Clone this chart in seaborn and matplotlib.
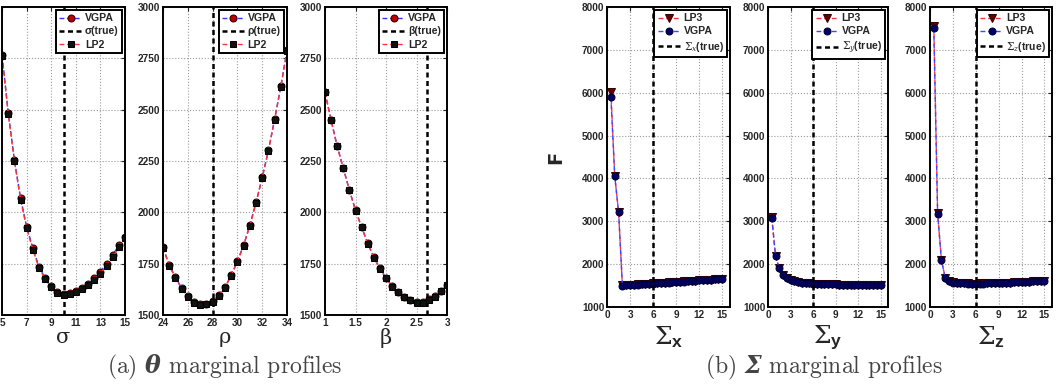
import matplotlib
matplotlib.use("Agg")
import matplotlib.pyplot as plt
import seaborn as sns

# --- Data --------------------------------------------------------------------
sigma_grid = [5, 5.5, 6, 6.5, 7, 7.5, 8, 8.5, 9, 9.5, 10,
              10.5, 11, 11.5, 12, 12.5, 13, 13.5, 14, 14.5, 15]
sigma_vgpa = [2766, 2484, 2255, 2070, 1929, 1826, 1734, 1680, 1641, 1610, 1602,
              1605, 1615, 1630, 1652, 1680, 1712, 1750, 1792, 1840, 1880]
sigma_lp2 = [2760, 2478, 2250, 2062, 1922, 1818, 1730, 1674, 1636, 1607, 1600,
             1604, 1612, 1627, 1646, 1672, 1702, 1740, 1782, 1830, 1873]

rho_grid = [24, 24.5, 25, 25.5, 26, 26.5, 27, 27.5, 28, 28.5, 29,
            29.5, 30, 30.5, 31, 31.5, 32, 32.5, 33, 33.5, 34]
rho_vgpa = [1831, 1743, 1685, 1631, 1592, 1563, 1553, 1556, 1568, 1597, 1636,
            1695, 1763, 1841, 1938, 2050, 2172, 2303, 2455, 2615, 2790]
rho_lp2 = [1828, 1740, 1682, 1628, 1589, 1561, 1551, 1554, 1565, 1594, 1633,
           1692, 1760, 1838, 1934, 2046, 2168, 2300, 2452, 2612, 2788]

beta_grid = [1.0, 1.1, 1.2, 1.3, 1.4, 1.5, 1.6, 1.7, 1.8, 1.9, 2.0,
             2.1, 2.2, 2.3, 2.4, 2.5, 2.6, 2.7, 2.8, 2.9, 3.0]
beta_vgpa = [2586, 2450, 2323, 2216, 2109, 2011, 1929, 1850, 1782, 1727, 1680,
             1641, 1612, 1588, 1573, 1563, 1563, 1578, 1592, 1617, 1646]
beta_lp2 = [2584, 2448, 2321, 2214, 2107, 2009, 1927, 1848, 1780, 1725, 1678,
            1639, 1610, 1586, 1571, 1561, 1561, 1575, 1590, 1615, 1644]

theta_true = [10, 28, 8 / 3]
theta_names = ["σ", "ρ", "β"]
theta_xlim = [(5, 15), (24, 34), (1, 3)]
theta_xticks = [[5, 7, 9, 11, 13, 15], [24, 26, 28, 30, 32, 34],
                [1, 1.5, 2, 2.5, 3]]
theta_xticklabels = [["5", "7", "9", "11", "13", "15"],
                     ["24", "26", "28", "30", "32", "34"],
                     ["1", "1.5", "2", "2.5", "3"]]

sig_grid = [0.5, 1, 1.5, 2, 2.5, 3, 3.5, 4, 4.5, 5, 5.5, 6, 6.5, 7, 7.5,
            8, 8.5, 9, 9.5, 10, 10.5, 11, 11.5, 12, 12.5, 13, 13.5, 14, 14.5, 15]
sx_lp3 = [6020, 4060, 3220, 1500, 1505, 1511, 1517, 1523, 1529, 1535, 1541,
          1547, 1553, 1559, 1565, 1571, 1577, 1583, 1589, 1595, 1601, 1607,
          1613, 1619, 1625, 1631, 1637, 1643, 1649, 1655]
sx_vgpa = [5905, 4055, 3215, 1498, 1503, 1509, 1515, 1521, 1527, 1533, 1539,
           1545, 1551, 1557, 1563, 1569, 1575, 1581, 1587, 1593, 1599, 1605,
           1611, 1617, 1623, 1629, 1635, 1641, 1647, 1653]
sy_lp3 = [3100, 2185, 1905, 1752, 1682, 1634, 1602, 1582, 1567, 1557, 1549,
          1543, 1538, 1534, 1531, 1528, 1526, 1524, 1522, 1520, 1518, 1516,
          1515, 1513, 1512, 1511, 1510, 1509, 1508, 1507]
sy_vgpa = [3080, 2180, 1900, 1750, 1680, 1632, 1600, 1580, 1566, 1556, 1548,
           1542, 1537, 1533, 1530, 1527, 1525, 1523, 1521, 1519, 1517, 1515,
           1514, 1512, 1511, 1510, 1509, 1508, 1507, 1506]
sz_lp3 = [7560, 3190, 2090, 1680, 1600, 1570, 1558, 1552, 1549, 1547, 1546,
          1546, 1547, 1548, 1550, 1552, 1555, 1558, 1561, 1565, 1569, 1573,
          1577, 1582, 1587, 1592, 1597, 1603, 1609, 1615]
sz_vgpa = [7500, 3180, 2085, 1676, 1597, 1568, 1556, 1550, 1547, 1545, 1544,
           1544, 1545, 1546, 1548, 1550, 1553, 1556, 1559, 1563, 1567, 1571,
           1575, 1580, 1585, 1590, 1595, 1601, 1607, 1613]
sigma_true = 6
sigma_subs = ["x", "y", "z"]

# --- Style -------------------------------------------------------------------
sns.set_style("white")
plt.rcParams["font.family"] = ["Liberation Sans", "DejaVu Sans"]
plt.rcParams["mathtext.fontset"] = "custom"
plt.rcParams["mathtext.rm"] = "DejaVu Serif"
plt.rcParams["mathtext.it"] = "DejaVu Serif:italic"
plt.rcParams["mathtext.bf"] = "DejaVu Serif:bold:italic"
plt.rcParams["mathtext.sf"] = "Liberation Sans:bold"

SER_DASH = (0, (3.5, 2))
TRUE_DASH = (0, (2, 1.4))

fig = plt.figure(figsize=(10.62, 3.88), dpi=100)


def style_axis(ax):
    for sp in ax.spines.values():
        sp.set_linewidth(1.4)
        sp.set_color("black")
    ax.grid(True, linestyle=":", color="#9a9a9a", linewidth=0.8)
    ax.tick_params(direction="in", length=3, width=0.8, top=True, right=True,
                   labelsize=7.2, pad=2)
    for lbl in ax.get_xticklabels() + ax.get_yticklabels():
        lbl.set_fontweight("bold")


def boxed_legend(ax):
    leg = ax.legend(loc="upper right", frameon=True, fancybox=False,
                    borderpad=0.3, labelspacing=0.3, handlelength=2.2,
                    handletextpad=0.25, borderaxespad=0.3,
                    prop={"weight": "bold", "size": 7.6})
    leg.get_frame().set_edgecolor("black")
    leg.get_frame().set_linewidth(1.4)
    leg.get_frame().set_alpha(1)


# --- Panel (a): theta profiles ---------------------------------------------
theta_pos = [(0.002, 0.1157), (0.1535, 0.1168), (0.306, 0.115)]
theta_data = [(sigma_grid, sigma_vgpa, sigma_lp2),
              (rho_grid, rho_vgpa, rho_lp2),
              (beta_grid, beta_vgpa, beta_lp2)]
for i, (left, width) in enumerate(theta_pos):
    ax = fig.add_axes([left, 0.188, width, 0.794])
    xg, yv, yl = theta_data[i]
    sns.lineplot(x=xg, y=yv, ax=ax, color="#3333ff", linestyle=SER_DASH,
                 linewidth=1.0, marker="o", markersize=5,
                 markerfacecolor="#bb0000", markeredgecolor="#330000",
                 label="VGPA")
    ax.axvline(theta_true[i], color="black", linestyle=TRUE_DASH,
               linewidth=1.8, label=theta_names[i] + "(true)")
    sns.lineplot(x=xg, y=yl, ax=ax, color="#ff3333", linestyle=SER_DASH,
                 linewidth=1.0, marker="s", markersize=4.5,
                 markerfacecolor="#111111", markeredgecolor="#000000",
                 label="LP2")
    ax.set_xlim(*theta_xlim[i])
    ax.set_ylim(1500, 3000)
    ax.set_xticks(theta_xticks[i])
    ax.set_xticklabels(theta_xticklabels[i])
    ax.set_yticks([1500, 1750, 2000, 2250, 2500, 2750, 3000])
    ax.set_xlabel(theta_names[i], family="DejaVu Serif", fontsize=15,
                  labelpad=0)
    ax.set_ylabel("")
    style_axis(ax)
    boxed_legend(ax)

# --- Panel (b): Sigma profiles ---------------------------------------------
sig_pos = [(0.5716, 0.1158), (0.7232, 0.113), (0.8757, 0.1149)]
sig_data = [(sx_lp3, sx_vgpa), (sy_lp3, sy_vgpa), (sz_lp3, sz_vgpa)]
for i, (left, width) in enumerate(sig_pos):
    ax = fig.add_axes([left, 0.209, width, 0.773])
    y3, yv = sig_data[i]
    sub = sigma_subs[i]
    sns.lineplot(x=sig_grid, y=y3, ax=ax, color="#ff3333", linestyle=SER_DASH,
                 linewidth=1.0, marker="v", markersize=5.5,
                 markerfacecolor="#660000", markeredgecolor="#330000",
                 label="LP3")
    sns.lineplot(x=sig_grid, y=yv, ax=ax, color="#4444ff", linestyle=SER_DASH,
                 linewidth=1.0, marker="o", markersize=5,
                 markerfacecolor="#000066", markeredgecolor="#000033",
                 label="VGPA")
    ax.axvline(sigma_true, color="black", linestyle=TRUE_DASH, linewidth=1.8,
               label=r"$\Sigma_{%s}$(true)" % sub)
    ax.set_xlim(0, 16)
    ax.set_ylim(1000, 8000)
    ax.set_xticks([0, 3, 6, 9, 12, 15])
    ax.set_yticks([1000, 2000, 3000, 4000, 5000, 6000, 7000, 8000])
    ax.set_xlabel(r"$\Sigma_{\mathsf{%s}}$" % sub, fontsize=18, labelpad=3)
    if i == 0:
        ax.set_ylabel("F", family="DejaVu Sans", fontsize=14,
                      fontweight="bold", labelpad=12)
    else:
        ax.set_ylabel("")
    style_axis(ax)
    boxed_legend(ax)

# --- Captions ----------------------------------------------------------------
fig.text(0.212, 0.052, r"(a) $\mathbf{\theta}$ marginal profiles",
         family="cmr10", fontsize=17, color="#444444", ha="center",
         va="center")
fig.text(0.776, 0.052, r"(b) $\mathbf{\Sigma}$ marginal profiles",
         family="cmr10", fontsize=17, color="#444444", ha="center",
         va="center")

fig.savefig("out.png", dpi=100)
plt.close(fig)
